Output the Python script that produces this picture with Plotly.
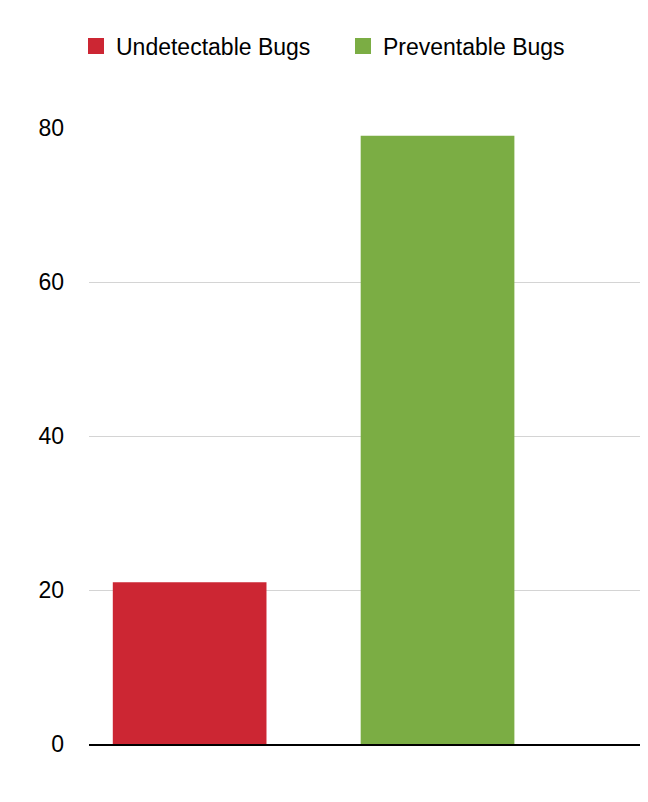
import plotly.graph_objects as go

series_names = ["Undetectable Bugs", "Preventable Bugs"]
values = [21, 79]
colors = ["#CC2633", "#7BAD44"]
y_ticks = [0, 20, 40, 60, 80]

W, H = 640, 794  # page body has an 8px default margin

fig = go.Figure()
for name, v, c in zip(series_names, values, colors):
    fig.add_trace(go.Bar(x=[name], y=[v], marker=dict(color=c, line=dict(width=0)),
                         width=0.62, showlegend=False, hoverinfo="skip"))
    fig.add_trace(go.Scatter(x=[None], y=[None], mode="markers", name=name,
                             marker=dict(symbol="square", size=17, color=c, line=dict(width=0))))

fig.update_layout(
    width=W, height=H,
    paper_bgcolor="white", plot_bgcolor="white",
    margin=dict(l=81, r=0, t=120, b=58),
    barmode="overlay",
    font=dict(family="Liberation Sans, Arial, sans-serif", size=23, color="black"),
    showlegend=True,
    legend=dict(orientation="h", x=68 / W, xref="container", xanchor="left",
                y=1 - 38 / H, yref="container", yanchor="middle",
                font=dict(size=23), itemsizing="trace", bgcolor="rgba(0,0,0,0)",
                borderwidth=0, entrywidth=222, entrywidthmode="pixels"),
    xaxis=dict(type="category", categoryorder="array", categoryarray=series_names,
               range=[-0.406, 1.849], showticklabels=False, showgrid=False,
               showline=True, linecolor="black", linewidth=2, ticks="", zeroline=False),
    yaxis=dict(range=[0, 80], tickvals=y_ticks, showgrid=True, gridcolor="#d4d4d4",
               gridwidth=1, zeroline=False, showline=False, ticks="",
               ticklabelstandoff=24, tickfont=dict(size=23)),
)
fig.write_html("out.html")
